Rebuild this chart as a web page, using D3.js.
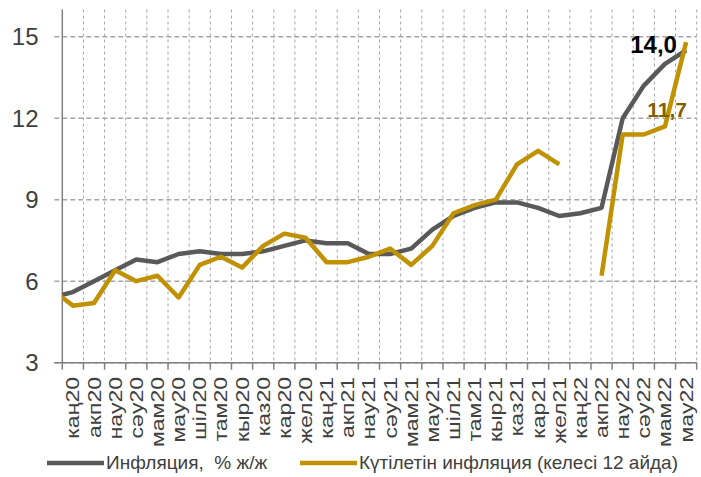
<!DOCTYPE html>
<html>
<head>
<meta charset="utf-8">
<script src="https://cdn.jsdelivr.net/npm/d3@7"></script>
<style>
  body { margin: 0; background: #fff; }
  svg { display: block; font-family: "Liberation Sans", Arial, sans-serif; }
</style>
</head>
<body>
<svg id="chart" width="701" height="477"></svg>
<script>
// month labels on the axis (Jan 2020 .. Jun 2022)
var months = ["каң20","акп20","нау20","сәу20","мам20","мау20","шіл20","там20","кыр20","каз20","кар20","жел20",
              "каң21","акп21","нау21","сәу21","мам21","мау21","шіл21","там21","кыр21","каз21","кар21","жел21",
              "каң22","акп22","нау22","сәу22","мам22","мау22"];

// series start one month earlier (Dec 2019), which is cut off at the axis
var inflation = [5.4, 5.6, 6.0, 6.4, 6.8, 6.7, 7.0, 7.1, 7.0, 7.0, 7.1, 7.3, 7.5,
                 7.4, 7.4, 7.0, 7.0, 7.2, 7.9, 8.4, 8.7, 8.9, 8.9, 8.7, 8.4,
                 8.5, 8.7, 12.0, 13.2, 14.0, 14.5];
var expected = [5.7, 5.1, 5.2, 6.4, 6.0, 6.2, 5.4, 6.6, 6.9, 6.5, 7.3, 7.75, 7.6,
                6.7, 6.7, 6.9, 7.2, 6.6, 7.3, 8.5, 8.8, 9.0, 10.3, 10.8, 10.3,
                null, 6.2, 11.4, 11.4, 11.7, 14.8];

var yTicks = [3, 6, 9, 12, 15];
var seriesNames = ["Инфляция,  % ж/ж", "Күтілетін инфляция (келесі 12 айда)"];
// point labels: [month index, value, text]
var callouts = [[28, 14.0, "14,0"], [28, 11.7, "11,7"]];

var grayColor = "#595959", goldColor = "#C09100";

var svg = d3.select("#chart");
var plot = {left: 62.3, right: 696.7, top: 9.5, bottom: 362.7};

var x = d3.scaleLinear().domain([-0.5, months.length - 0.5]).range([plot.left, plot.right]);
var y = d3.scaleLinear().domain([3, 16]).range([plot.bottom, plot.top]);

// vertical grid (between months)
var bounds = d3.range(-0.5, months.length, 1);
svg.append("g").selectAll("line")
    .data(bounds.slice(1))
    .enter().append("line")
    .attr("x1", function(d) { return x(d); })
    .attr("x2", function(d) { return x(d); })
    .attr("y1", plot.top)
    .attr("y2", plot.bottom)
    .attr("stroke", "#a6a6a6")
    .attr("stroke-width", 1)
    .attr("stroke-dasharray", "3,3");

// horizontal grid
svg.append("g").selectAll("line")
    .data(yTicks)
    .enter().append("line")
    .attr("x1", plot.left - 8)
    .attr("x2", plot.right)
    .attr("y1", function(d) { return y(d); })
    .attr("y2", function(d) { return y(d); })
    .attr("stroke", "#a6a6a6")
    .attr("stroke-width", 1.5)
    .attr("stroke-dasharray", "5,3");

// y labels
svg.append("g").selectAll("text")
    .data(yTicks)
    .enter().append("text")
    .attr("x", 38.5)
    .attr("y", function(d) { return y(d); })
    .attr("dy", "0.36em")
    .attr("text-anchor", "end")
    .attr("font-size", 24)
    .attr("fill", "#404040")
    .text(function(d) { return d; });

// axes lines
svg.append("line")
    .attr("x1", plot.left).attr("x2", plot.left)
    .attr("y1", plot.top).attr("y2", plot.bottom)
    .attr("stroke", "#808080").attr("stroke-width", 1.5);
svg.append("line")
    .attr("x1", plot.left - 8).attr("x2", plot.right)
    .attr("y1", plot.bottom).attr("y2", plot.bottom)
    .attr("stroke", "#808080").attr("stroke-width", 1.5);

// x tick marks
svg.append("g").selectAll("line")
    .data(bounds)
    .enter().append("line")
    .attr("x1", function(d) { return x(d); })
    .attr("x2", function(d) { return x(d); })
    .attr("y1", plot.bottom)
    .attr("y2", plot.bottom + 7)
    .attr("stroke", "#808080")
    .attr("stroke-width", 1.5);

// x labels (stretched along the text like the original)
svg.append("g").selectAll("text")
    .data(months)
    .enter().append("text")
    .attr("transform", function(d, i) { return "translate(" + x(i) + "," + 377 + ") rotate(-90) scale(1.28,1)"; })
    .attr("dy", "0.36em")
    .attr("text-anchor", "end")
    .attr("font-size", 18)
    .attr("fill", "#404040")
    .text(function(d) { return d; });

// lines
svg.append("clipPath").attr("id", "plotclip")
    .append("rect")
    .attr("x", plot.left).attr("y", 0)
    .attr("width", plot.right - plot.left).attr("height", plot.bottom);

var line = d3.line()
    .defined(function(d) { return d != null; })
    .x(function(d, i) { return x(i - 1); })
    .y(function(d) { return y(d); });

var lines = svg.append("g").attr("clip-path", "url(#plotclip)");
lines.append("path")
    .datum(inflation)
    .attr("d", line)
    .attr("fill", "none")
    .attr("stroke", grayColor)
    .attr("stroke-width", 4.5)
    .attr("stroke-linejoin", "round");
lines.append("path")
    .datum(expected)
    .attr("d", line)
    .attr("fill", "none")
    .attr("stroke", goldColor)
    .attr("stroke-width", 4.5)
    .attr("stroke-linejoin", "round");

// callouts
svg.append("text")
    .attr("x", x(callouts[0][0]) + 12)
    .attr("y", y(callouts[0][1]) - 10.5)
    .attr("text-anchor", "end")
    .attr("font-size", 24)
    .attr("font-weight", "bold")
    .attr("fill", "#000")
    .text(callouts[0][2]);
svg.append("text")
    .attr("x", x(callouts[1][0]) + 22)
    .attr("y", y(callouts[1][1]) - 9)
    .attr("text-anchor", "end")
    .attr("font-size", 21)
    .attr("font-weight", "bold")
    .attr("fill", "#7F6000")
    .text(callouts[1][2]);

// legend
var legend = [[47, grayColor], [300, goldColor]];
legend.forEach(function(l, i) {
    svg.append("line")
        .attr("x1", l[0]).attr("x2", l[0] + 57)
        .attr("y1", 463).attr("y2", 463)
        .attr("stroke", l[1]).attr("stroke-width", 4.5);
    svg.append("text")
        .attr("x", l[0] + 59)
        .attr("y", 469)
        .attr("font-size", 19)
        .attr("fill", "#404040")
        .style("white-space", "pre")
        .text(seriesNames[i]);
});
</script>
</body>
</html>
